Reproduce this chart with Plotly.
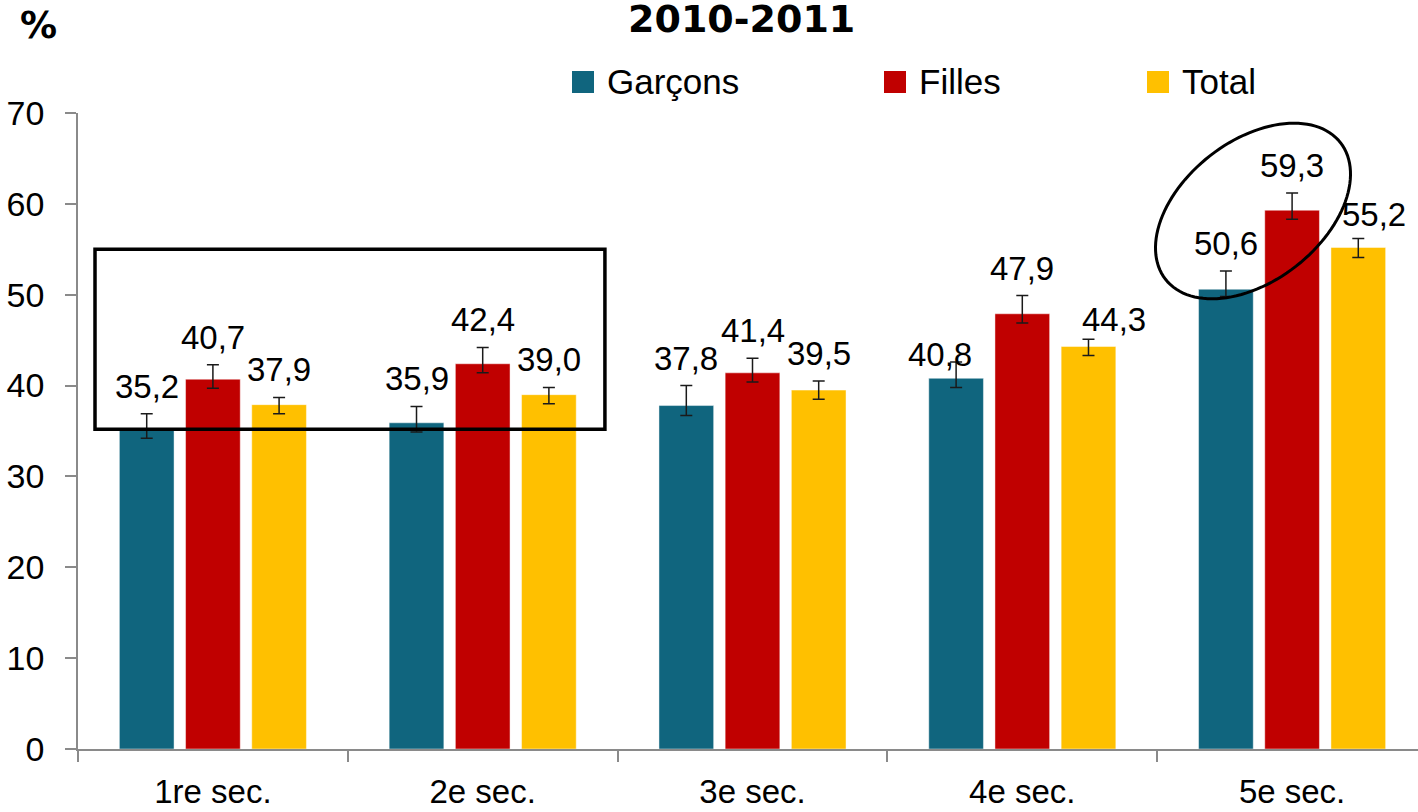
import math
import plotly.graph_objects as go

# ---------------- data ----------------
categories = ["1re sec.", "2e sec.", "3e sec.", "4e sec.", "5e sec."]
series_names = ["Garçons", "Filles", "Total"]
garcons = [35.2, 35.9, 37.8, 40.8, 50.6]
filles = [40.7, 42.4, 41.4, 47.9, 59.3]
total = [37.9, 39.0, 39.5, 44.3, 55.2]
garcons_err_plus = [1.7, 1.8, 2.2, 1.8, 2.0]
garcons_err_minus = [1.0, 1.0, 1.1, 1.0, 0.8]
filles_err_plus = [1.6, 1.8, 1.6, 2.0, 1.9]
filles_err_minus = [1.0, 1.0, 1.0, 1.0, 1.0]
total_err_plus = [0.8, 0.8, 1.0, 0.8, 1.0]
total_err_minus = [1.0, 1.0, 1.0, 1.0, 1.1]
y_ticks = [0, 10, 20, 30, 40, 50, 60, 70]
title_text = "2010-2011"
unit_text = "%"

# ---------------- style ----------------
colors = ["#10657E", "#C00000", "#FFC000"]
NARROW = "Liberation Sans Narrow, Arial Narrow, Liberation Sans, Arial, sans-serif"
BOLD = "DejaVu Sans, Verdana, sans-serif"
W, H = 1418, 812
ML, MR, MT, MB = 78, 0, 113, 63
PW, PH = W - ML - MR, H - MT - MB
CAT_PX = 269.8
x_end = -0.5 + PW / CAT_PX
Y_MAX = 70
PX_PER_UNIT = PH / Y_MAX

def px_x(px):
    return (px - ML) / PW

def px_y(py):
    return (H - MB - py) / PH

values = [garcons, filles, total]
eplus = [garcons_err_plus, filles_err_plus, total_err_plus]
eminus = [garcons_err_minus, filles_err_minus, total_err_minus]

fig = go.Figure()
for name, vals, ep, em, col in zip(series_names, values, eplus, eminus, colors):
    fig.add_trace(go.Bar(
        x=categories, y=vals, name=name, showlegend=False,
        marker=dict(color=col, line=dict(color="rgba(255,255,255,0.45)", width=1)),
        error_y=dict(type="data", symmetric=False, array=ep, arrayminus=em,
                     color="#1a1a1a", thickness=1.5, width=6),
    ))

# data labels
slot = 66.2 / CAT_PX
label_nudge = {(0, 3): (-16, -20), (2, 3): (25, -8), (2, 4): (16, -4)}
annotations = []
for i, (vals, ep) in enumerate(zip(values, eplus)):
    for j, (v, e) in enumerate(zip(vals, ep)):
        dx, dy = label_nudge.get((i, j), (0, 0))
        annotations.append(dict(
            x=j + (i - 1) * slot, y=v + e, xref="x", yref="y",
            text=f"{v:.1f}".replace(".", ","), showarrow=False,
            yanchor="bottom", xanchor="center", xshift=dx, yshift=7 + dy,
            font=dict(family=NARROW, size=33, color="black"),
        ))

# title and unit
annotations.append(dict(x=px_x(741), y=px_y(19), xref="paper", yref="paper",
                        text=f"<b>{title_text}</b>", showarrow=False,
                        xanchor="center", yanchor="middle",
                        font=dict(family=BOLD, size=38, color="black")))
annotations.append(dict(x=px_x(38), y=px_y(26), xref="paper", yref="paper",
                        text=f"<b>{unit_text}</b>", showarrow=False,
                        xanchor="center", yanchor="middle",
                        font=dict(family=BOLD, size=37, color="black")))

# manual legend
shapes = []
legend_x = [572, 884, 1147]
legend_y = 82
for name, col, lx in zip(series_names, colors, legend_x):
    shapes.append(dict(type="rect", xref="paper", yref="paper",
                       x0=px_x(lx), x1=px_x(lx + 22),
                       y0=px_y(legend_y + 11), y1=px_y(legend_y - 11),
                       fillcolor=col, line=dict(width=0)))
    annotations.append(dict(x=px_x(lx + 33), y=px_y(legend_y), xref="paper", yref="paper",
                            text=name, showarrow=False, xanchor="left", yanchor="middle",
                            font=dict(family=NARROW, size=35, color="black")))

# highlight rectangle around first two groups
shapes.append(dict(type="rect", xref="x", yref="y",
                   x0=-0.437, x1=1.453, y0=35.2, y1=55.0,
                   line=dict(color="black", width=3.5), fillcolor="rgba(0,0,0,0)"))

# tilted ellipse around 5e sec. (pixel geometry converted to data units)
cx, cy = -0.5 + (1253 - ML) / CAT_PX, (H - MB - 211) / PX_PER_UNIT
a, b, th = 111.0, 70.0, math.radians(38)
pts = []
for k in range(121):
    t = 2 * math.pi * k / 120
    dx = a * math.cos(t) * math.cos(th) - b * math.sin(t) * math.sin(th)
    dy = a * math.cos(t) * math.sin(th) + b * math.sin(t) * math.cos(th)
    pts.append((cx + dx / CAT_PX, cy + dy / PX_PER_UNIT))
path = "M " + " L ".join(f"{x:.5f},{y:.4f}" for x, y in pts) + " Z"
shapes.append(dict(type="path", xref="x", yref="y", path=path,
                   line=dict(color="black", width=3), fillcolor="rgba(0,0,0,0)"))

fig.update_layout(
    width=W, height=H, autosize=False,
    margin=dict(l=ML, r=MR, t=MT, b=MB, pad=0, autoexpand=False),
    paper_bgcolor="white", plot_bgcolor="white",
    barmode="group", bargap=0.264, bargroupgap=0.174,
    annotations=annotations, shapes=shapes, showlegend=False,
)
fig.update_xaxes(type="category", range=[-0.5, x_end], showline=True, automargin=False,
                 linecolor="#8a8a8a", linewidth=1.5, ticks="outside",
                 tickson="boundaries", ticklen=11, tickcolor="#8a8a8a", tickwidth=1.5,
                 tickfont=dict(family=NARROW, size=33, color="black"),
                 ticklabelstandoff=13, showgrid=False, zeroline=False)
fig.update_yaxes(range=[0, Y_MAX], tickvals=y_ticks, showline=True, automargin=False,
                 linecolor="#8a8a8a", linewidth=1.5, ticks="outside", ticklen=11,
                 tickcolor="#8a8a8a", tickwidth=1.5,
                 tickfont=dict(family=NARROW, size=34, color="black"),
                 ticklabelstandoff=14, showgrid=False, zeroline=False)

fig.write_html("out.html", config={"displayModeBar": False},
               post_script="document.body.style.margin='0';")
